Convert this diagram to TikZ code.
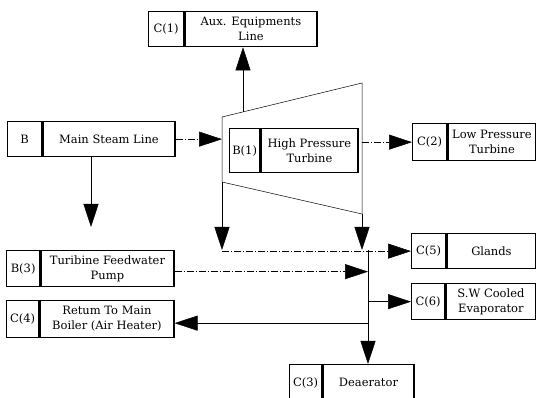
\documentclass[tikz,border=0pt]{standalone}
\usepackage{fontspec}
\setmainfont{DejaVu Serif}
\usetikzlibrary{arrows.meta, calc}
\begin{document}
\begin{tikzpicture}[
    x=1pt, y=-1pt,
    every node/.style={font=\fontsize{11.5pt}{15pt}\selectfont},
    codecell/.style={draw, line width=1.3pt, inner sep=0pt, anchor=north west},
    namecell/.style={draw, line width=1.3pt, inner sep=0pt, anchor=north west, align=center},
    flow/.style={-{Triangle[length=23pt,width=15pt]}, line width=0.5pt},
    dflow/.style={flow, dash pattern=on 7pt off 2pt on 1pt off 2pt},
    casing/.style={line width=0.5pt}
]
\useasboundingbox (0,0) rectangle (536,398);
% turbine casing
\coordinate (tl) at (222,117);
\coordinate (tr) at (362,83);
\coordinate (br) at (362,214);
\coordinate (bl) at (222,182);
\draw[casing] (tl) -- (tr) -- (br) -- (bl) -- cycle;
% boxes
\node[codecell, minimum width=35pt, minimum height=35pt] (auxcode) at (148,11) {C(1)};
\node[namecell, minimum width=132pt, minimum height=35pt] (aux) at (auxcode.north east) {Aux. Equipments\\Line};
\node[codecell, minimum width=34pt, minimum height=35pt] (mslcode) at (7,121) {B};
\node[namecell, minimum width=132pt, minimum height=35pt] (msl) at (mslcode.north east) {Main Steam Line};
\node[codecell, minimum width=30pt, minimum height=44pt] (hptcode) at (229,128) {B(1)};
\node[namecell, minimum width=97pt, minimum height=44pt] (hpt) at (hptcode.north east) {High Pressure\\Turbine};
\node[codecell, minimum width=34pt, minimum height=37pt] (lptcode) at (412,123) {C(2)};
\node[namecell, minimum width=88pt, minimum height=37pt] (lpt) at (lptcode.north east) {Low Pressure\\Turbine};
\node[codecell, minimum width=33pt, minimum height=36pt] (pumpcode) at (6,250) {B(3)};
\node[namecell, minimum width=133pt, minimum height=36pt] (pump) at (pumpcode.north east) {Turibine Feedwater\\Pump};
\node[codecell, minimum width=32pt, minimum height=37pt] (boilcode) at (6,300) {C(4)};
\node[namecell, minimum width=134pt, minimum height=37pt] (boil) at (boilcode.north east) {Retum To Main\\Boiler (Air Heater)};
\node[codecell, minimum width=34pt, minimum height=35pt] (glandcode) at (411,233) {C(5)};
\node[namecell, minimum width=89pt, minimum height=35pt] (glands) at (glandcode.north east) {Glands};
\node[codecell, minimum width=33pt, minimum height=36pt] (evapcode) at (411,283) {C(6)};
\node[namecell, minimum width=90pt, minimum height=36pt] (evap) at (evapcode.north east) {S.W Cooled\\Evaporator};
\node[codecell, minimum width=32pt, minimum height=36pt] (deacode) at (289,364) {C(3)};
\node[namecell, minimum width=91pt, minimum height=36pt] (dea) at (deacode.north east) {Deaerator};
% steam flows
\coordinate (tt) at ($(tl)!0.15!(tr)$);
\coordinate (mdrop) at (91,227);
\coordinate (ltip) at (222,250);
\coordinate (rtip) at (362,250);
\coordinate (jv) at (368,250);
\draw[dflow] (msl.east) -- (msl.east -| tl);
\draw[flow] (tt) -- (tt |- aux.south);
\draw[dflow] (lptcode.west -| tr) -- (lptcode.west);
\draw[flow] (mdrop |- msl.south) -- (mdrop);
\draw[flow] (bl) -- (ltip);
\draw[flow] (br) -- (rtip);
\draw[dflow] (glandcode.west -| ltip) -- (glandcode.west);
\draw[line width=0.5pt] (jv) -- (jv |- boil.south);
\draw[flow] (jv |- boil.south) -- (jv |- dea.north);
\draw[dflow] ([yshift=-3pt]pump.east) -- ([yshift=-3pt]pump.east -| jv);
\draw[flow] (jv |- evapcode.west) -- (evapcode.west);
\draw[flow] ([yshift=-4pt]boil.east -| jv) -- ([yshift=-4pt]boil.east);
\end{tikzpicture}
\end{document}
